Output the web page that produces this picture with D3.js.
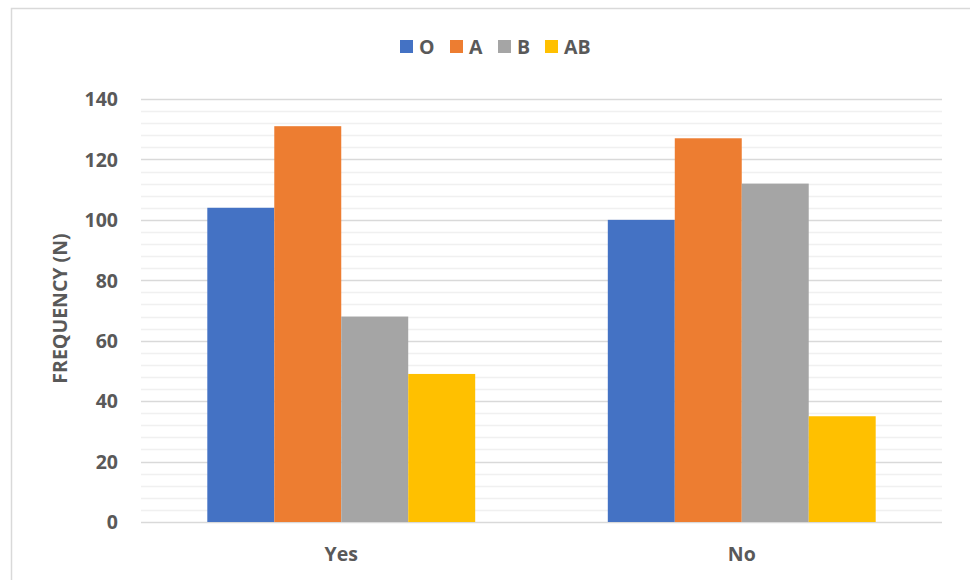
<!DOCTYPE html>
<html>
<head>
<meta charset="utf-8">
<script src="https://cdn.jsdelivr.net/npm/d3@7"></script>
<style>
  html, body { margin: 0; padding: 0; background: #fff; }
  svg { display: block; }
  text { font-family: "Open Sans", "Liberation Sans", sans-serif; font-weight: bold; fill: #595959; }
</style>
</head>
<body>
<svg id="chart" width="970" height="580"></svg>
<script>
// Blood group frequency by answer
const categories = ["Yes", "No"];
const seriesNames = ["O", "A", "B", "AB"];
const seriesColors = ["#4472C4", "#ED7D31", "#A5A5A5", "#FFC000"];
const valuesO = [104, 100];
const valuesA = [131, 127];
const valuesB = [68, 112];
const valuesAB = [49, 35];
const yTicks = [0, 20, 40, 60, 80, 100, 120, 140];
const yTitle = "FREQUENCY (N)";

const seriesValues = [valuesO, valuesA, valuesB, valuesAB];
const FONT = 19.5;

const svg = d3.select("#chart");
const W = 970, H = 580;

// chart frame
svg.append("path")
  .attr("d", `M11.5,${H} V8.5 H${W}`)
  .attr("fill", "none")
  .attr("stroke", "#d9d9d9")
  .attr("stroke-width", 1.5);

const plot = { left: 141, right: 942, top: 99, bottom: 522 };

const x0 = d3.scaleBand()
  .domain(categories)
  .range([plot.left, plot.right]);

const x1 = d3.scaleBand()
  .domain(seriesNames)
  .range([0, x0.bandwidth()])
  .paddingOuter(0.99)
  .paddingInner(0);

const y = d3.scaleLinear()
  .domain([0, 140])
  .range([plot.bottom, plot.top]);

// minor gridlines
const minor = d3.range(0, 141, 4).filter(v => v % 20 !== 0);
svg.append("g").selectAll("line").data(minor).join("line")
  .attr("x1", plot.left).attr("x2", plot.right)
  .attr("y1", d => Math.round(y(d)) + 0.5).attr("y2", d => Math.round(y(d)) + 0.5)
  .attr("stroke", "#f0f0f0").attr("stroke-width", 1.5);

// major gridlines
svg.append("g").selectAll("line").data(yTicks).join("line")
  .attr("x1", plot.left).attr("x2", plot.right)
  .attr("y1", d => Math.round(y(d)) + 0.5).attr("y2", d => Math.round(y(d)) + 0.5)
  .attr("stroke", "#d9d9d9").attr("stroke-width", 1.5);

// y axis labels
const yAxis = d3.axisLeft(y).tickValues(yTicks).tickSize(0).tickPadding(0);
const gy = svg.append("g").attr("transform", `translate(${plot.left - 23},0)`).call(yAxis);
gy.select(".domain").remove();
gy.selectAll("text")
  .attr("font-size", FONT)
  .attr("font-family", null)
  .attr("fill", "#595959")
  .attr("dy", "0.35em");

// bars
const groups = svg.append("g").selectAll("g").data(categories).join("g")
  .attr("transform", d => `translate(${x0(d)},0)`);

groups.selectAll("rect")
  .data((c, ci) => seriesNames.map((s, si) => ({ s, si, v: seriesValues[si][ci] })))
  .join("rect")
  .attr("x", d => x1(d.s))
  .attr("width", x1.bandwidth())
  .attr("y", d => y(d.v))
  .attr("height", d => y(0) - y(d.v))
  .attr("fill", d => seriesColors[d.si]);

// x axis labels
const xAxis = d3.axisBottom(x0).tickSize(0).tickPadding(0);
const gx = svg.append("g").attr("transform", `translate(0,${plot.bottom + 25})`).call(xAxis);
gx.select(".domain").remove();
gx.selectAll("text")
  .attr("font-size", FONT)
  .attr("font-family", null)
  .attr("fill", "#595959")
  .attr("dy", "0.71em");

// y axis title
svg.append("text")
  .attr("transform", `translate(67,${(plot.top + plot.bottom) / 2 - 2}) rotate(-90)`)
  .attr("text-anchor", "middle")
  .attr("font-size", FONT)
  .text(yTitle);

// legend
const legendX = [400, 450, 498, 545];
const legend = svg.append("g").selectAll("g").data(seriesNames).join("g")
  .attr("transform", (d, i) => `translate(${legendX[i]},40)`);
legend.append("rect")
  .attr("width", 13).attr("height", 13)
  .attr("fill", (d, i) => seriesColors[i]);
legend.append("text")
  .attr("x", 19).attr("y", 6.5).attr("dy", "0.36em")
  .attr("font-size", FONT)
  .text(d => d);
</script>
</body>
</html>
